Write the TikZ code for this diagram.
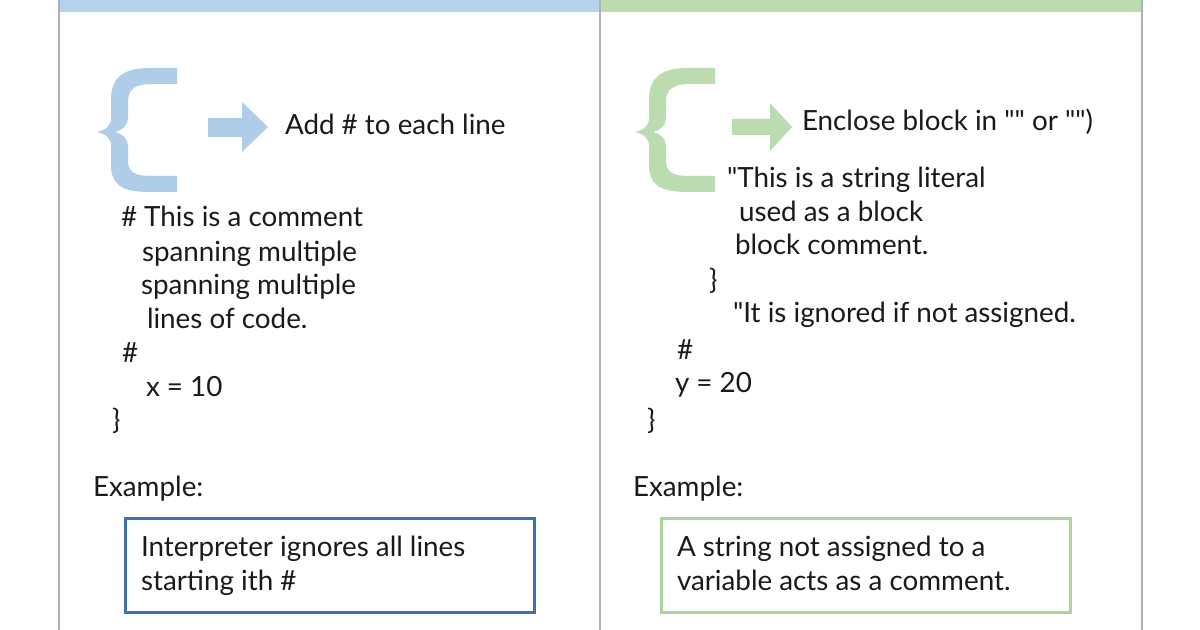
\documentclass[tikz,border=0pt]{standalone}
\usepackage{fontspec}
\setmainfont{Lato}[Ligatures=TeXOff]
\usetikzlibrary{positioning}
\definecolor{barblue}{HTML}{B4D2EB}
\definecolor{bargreen}{HTML}{BCDCB0}
\definecolor{braceblue}{HTML}{AFCDE9}
\definecolor{bracegreen}{HTML}{BBDBB0}
\definecolor{boxblue}{HTML}{3D72AC}
\definecolor{boxgreen}{HTML}{A9D49C}
\definecolor{panelgray}{HTML}{B0B0B0}
\definecolor{ink}{HTML}{1A1A1A}
\begin{document}
\begin{tikzpicture}[
x=0.5pt, y=-0.5pt,
   txt/.style = {anchor=base west, inner sep=0pt, outer sep=0pt,
                 text=ink, font=\fontsize{13.9}{16}\selectfont},
   exm/.style = {draw=#1, line width=1.5pt,
                 minimum width=204.5pt, minimum height=47pt,
                 anchor=north west, inner sep=0pt},
   sep/.style = {draw=panelgray, line width=1pt}
                        ]
\useasboundingbox[fill=white] (0,0) rectangle (1200,630);
    % panels
\fill[barblue]  (59,0) rectangle (600,12);
\fill[bargreen] (600,0) rectangle (1142,12);
\draw[sep] (59,0) -- (59,630);
\draw[sep] (600,0) -- (600,630);
\draw[sep] (1142,0) -- (1142,630);
    % braces and arrows
\foreach \dx/\col in {0/braceblue, 538/bracegreen}
{
\fill[\col, shift={(\dx,0)}]
    (177,68) -- (150,68) .. controls (120,68) and (111,80) .. (111,100)
    -- (111,118) .. controls (111,126) and (106,130) .. (97,132)
    .. controls (106,134) and (111,138) .. (111,146)
    -- (111,164) .. controls (111,184) and (120,192) .. (150,192)
    -- (177,192) -- (177,176) -- (152,176)
    .. controls (134,176) and (128,172) .. (128,160)
    -- (128,146) .. controls (128,139) and (123,134) .. (115,132)
    .. controls (123,130) and (128,125) .. (128,118)
    -- (128,102) .. controls (128,90) and (134,84) .. (152,84)
    -- (177,84) -- cycle;
}
\fill[braceblue]  (208,118) -- (242,118) -- (242,102) -- (268,127)
    -- (242,152) -- (242,137) -- (208,137) -- cycle;
\fill[bracegreen] (732,119) -- (770,119) -- (770,103) -- (792,127)
    -- (770,151) -- (770,135) -- (732,135) -- cycle;
    % left panel
\node (addhash) [txt] at (285,135) {Add \# to each line};
\node (l1) [txt] at (121,227) {\# This is a comment};
\node (l2) [txt] at (142,262) {spanning multiple};
\node (l3) [txt] at (141,295) {spanning multiple};
\node (l4) [txt] at (147,329) {lines of code.};
\node (l5) [txt] at (122,363) {\#};
\node (l6) [txt] at (146,397) {x = 10};
\node (l7) [txt] at (112,430) {\}};
\node (exl) [txt] at (93,497) {Example:};
\node (boxl) [exm=boxblue] at (124,517) {};
\node (bl1) [txt] at (141,557) {Interpreter ignores all lines};
\node (bl2) [txt] at (141,590) {starting ith \#};
    % right panel
\node (enclose) [txt] at (802,131) {Enclose block in "" or "")};
\node (r1) [txt] at (727,188) {"This is a string literal};
\node (r2) [txt] at (739,222) {used as a block};
\node (r3) [txt] at (735,255) {block comment.};
\node (r4) [txt] at (709,290) {\}};
\node (r5) [txt] at (733,323) {"It is ignored if not assigned.};
\node (r6) [txt] at (677,360) {\#};
\node (r7) [txt] at (675,393) {y = 20};
\node (r8) [txt] at (647,430) {\}};
\node (exr) [txt] at (633,497) {Example:};
\node (boxr) [exm=boxgreen] at (660,517) {};
\node (br1) [txt] at (677,557) {A string not assigned to a};
\node (br2) [txt] at (677,590) {variable acts as a comment.};
\end{tikzpicture}
\end{document}
